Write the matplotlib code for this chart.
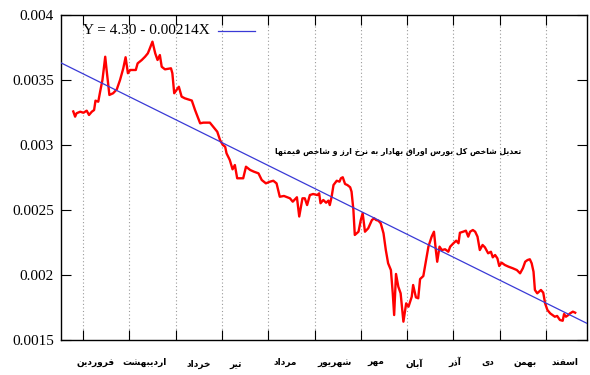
import matplotlib
matplotlib.use("Agg")
import matplotlib.pyplot as plt
import numpy as np

# ---------------- data ----------------
# x: position in months (0 = first month gridline), y: adjusted index value
x_month = [-0.21, -0.17, -0.14, -0.06, 0.01, 0.08, 0.13, 0.19, 0.24, 0.27,
           0.33, 0.37, 0.42, 0.48, 0.51, 0.57, 0.65, 0.73, 0.80, 0.87,
           0.92, 0.97, 1.02, 1.14, 1.18, 1.27, 1.34, 1.40, 1.43, 1.50,
           1.56, 1.61, 1.66, 1.70, 1.77, 1.90, 1.93, 1.97, 2.02, 2.07,
           2.13, 2.20, 2.35, 2.42, 2.53, 2.60, 2.74, 2.81, 2.90, 2.96,
           3.02, 3.07, 3.10, 3.17, 3.23, 3.28, 3.33, 3.46, 3.52, 3.61,
           3.69, 3.79, 3.86, 3.95, 4.04, 4.11, 4.18, 4.25, 4.34, 4.41,
           4.47, 4.53, 4.62, 4.67, 4.74, 4.79, 4.84, 4.90, 4.97, 5.06,
           5.10, 5.13, 5.19, 5.25, 5.30, 5.33, 5.37, 5.41, 5.48, 5.54,
           5.57, 5.61, 5.66, 5.71, 5.77, 5.80, 5.84, 5.87, 5.95, 6.00,
           6.04, 6.09, 6.16, 6.24, 6.29, 6.33, 6.38, 6.43, 6.49, 6.54,
           6.59, 6.65, 6.69, 6.72, 6.76, 6.81, 6.86, 6.92, 6.98, 7.03,
           7.10, 7.13, 7.19, 7.24, 7.28, 7.35, 7.41, 7.46, 7.53, 7.58,
           7.62, 7.65, 7.70, 7.75, 7.82, 7.89, 7.93, 8.00, 8.06, 8.11,
           8.14, 8.21, 8.27, 8.32, 8.36, 8.42, 8.47, 8.52, 8.57, 8.63,
           8.68, 8.75, 8.81, 8.85, 8.90, 8.95, 8.99, 9.04, 9.11, 9.19,
           9.28, 9.37, 9.44, 9.50, 9.55, 9.60, 9.65, 9.69, 9.73, 9.76,
           9.81, 9.89, 9.94, 9.98, 10.03, 10.09, 10.14, 10.19, 10.24, 10.30,
           10.36, 10.39, 10.43, 10.48, 10.52, 10.58, 10.63]

index_ratio = [0.003258, 0.003218, 0.003244, 0.003256, 0.003248, 0.003264, 0.003231, 0.003256, 0.003269, 0.003341,
               0.003333, 0.003410, 0.003500, 0.003679, 0.003577, 0.003385, 0.003398, 0.003428, 0.003500, 0.003590,
               0.003675, 0.003552, 0.003577, 0.003577, 0.003628, 0.003654, 0.003679, 0.003705, 0.003731, 0.003795,
               0.003705, 0.003654, 0.003692, 0.003602, 0.003582, 0.003590, 0.003552, 0.003398, 0.003423, 0.003448,
               0.003372, 0.003359, 0.003342, 0.003269, 0.003167, 0.003172, 0.003172, 0.003141, 0.003102, 0.003038,
               0.003000, 0.002987, 0.002936, 0.002885, 0.002813, 0.002846, 0.002744, 0.002744, 0.002833, 0.002808,
               0.002795, 0.002782, 0.002731, 0.002705, 0.002718, 0.002725, 0.002705, 0.002602, 0.002608, 0.002598,
               0.002590, 0.002564, 0.002598, 0.002450, 0.002590, 0.002590, 0.002538, 0.002615, 0.002623, 0.002615,
               0.002628, 0.002552, 0.002577, 0.002556, 0.002572, 0.002538, 0.002602, 0.002692, 0.002725, 0.002718,
               0.002744, 0.002752, 0.002700, 0.002692, 0.002675, 0.002641, 0.002500, 0.002308, 0.002333, 0.002423,
               0.002475, 0.002333, 0.002359, 0.002423, 0.002436, 0.002423, 0.002418, 0.002398, 0.002321, 0.002192,
               0.002090, 0.002038, 0.001859, 0.001692, 0.002008, 0.001910, 0.001859, 0.001641, 0.001782, 0.001756,
               0.001833, 0.001923, 0.001828, 0.001821, 0.001969, 0.001992, 0.002115, 0.002218, 0.002295, 0.002333,
               0.002192, 0.002102, 0.002218, 0.002192, 0.002198, 0.002179, 0.002218, 0.002244, 0.002264, 0.002244,
               0.002325, 0.002333, 0.002341, 0.002295, 0.002333, 0.002346, 0.002333, 0.002295, 0.002192, 0.002231,
               0.002213, 0.002167, 0.002179, 0.002136, 0.002154, 0.002128, 0.002069, 0.002095, 0.002077, 0.002064,
               0.002052, 0.002038, 0.002013, 0.002052, 0.002102, 0.002115, 0.002121, 0.002090, 0.002025, 0.001885,
               0.001859, 0.001885, 0.001864, 0.001782, 0.001731, 0.001705, 0.001692, 0.001679, 0.001685, 0.001654,
               0.001648, 0.001700, 0.001679, 0.001692, 0.001705, 0.001718, 0.001710]

# fitted trend line (value at month 0 and change per month)
trend_intercept = 0.003548
trend_slope = -0.0001764
trend_label = "Y = 4.30 - 0.00214X"

months = ["فروردین", "اردیبهشت", "خرداد", "تیر", "مرداد", "شهریور",
          "مهر", "آبان", "آذر", "دی", "بهمن", "اسفند"]
month_label_x = [0.28, 1.32, 2.51, 3.30, 4.36, 5.44, 6.33, 7.15, 8.03, 8.75, 9.55, 10.41]

title_text = "تعدیل شاخص کل بورس اوراق بهادار به نرخ ارز و شاخص قیمتها"

y_ticks = [0.0015, 0.002, 0.0025, 0.003, 0.0035, 0.004]
y_tick_labels = ["0.0015", "0.002", "0.0025", "0.003", "0.0035", "0.004"]

# ---------------- simple Arabic/Persian shaping ----------------
FORMS = {  # isolated, final, initial, medial
    'ا': (0xFE8D, 0xFE8E, None, None), 'آ': (0xFE81, 0xFE82, None, None),
    'ب': (0xFE8F, 0xFE90, 0xFE91, 0xFE92), 'پ': (0xFB56, 0xFB57, 0xFB58, 0xFB59),
    'ت': (0xFE95, 0xFE96, 0xFE97, 0xFE98), 'ث': (0xFE99, 0xFE9A, 0xFE9B, 0xFE9C),
    'ج': (0xFE9D, 0xFE9E, 0xFE9F, 0xFEA0), 'چ': (0xFB7A, 0xFB7B, 0xFB7C, 0xFB7D),
    'ح': (0xFEA1, 0xFEA2, 0xFEA3, 0xFEA4), 'خ': (0xFEA5, 0xFEA6, 0xFEA7, 0xFEA8),
    'د': (0xFEA9, 0xFEAA, None, None), 'ذ': (0xFEAB, 0xFEAC, None, None),
    'ر': (0xFEAD, 0xFEAE, None, None), 'ز': (0xFEAF, 0xFEB0, None, None),
    'ژ': (0xFB8A, 0xFB8B, None, None),
    'س': (0xFEB1, 0xFEB2, 0xFEB3, 0xFEB4), 'ش': (0xFEB5, 0xFEB6, 0xFEB7, 0xFEB8),
    'ص': (0xFEB9, 0xFEBA, 0xFEBB, 0xFEBC), 'ض': (0xFEBD, 0xFEBE, 0xFEBF, 0xFEC0),
    'ط': (0xFEC1, 0xFEC2, 0xFEC3, 0xFEC4), 'ظ': (0xFEC5, 0xFEC6, 0xFEC7, 0xFEC8),
    'ع': (0xFEC9, 0xFECA, 0xFECB, 0xFECC), 'غ': (0xFECD, 0xFECE, 0xFECF, 0xFED0),
    'ف': (0xFED1, 0xFED2, 0xFED3, 0xFED4), 'ق': (0xFED5, 0xFED6, 0xFED7, 0xFED8),
    'ک': (0xFB8E, 0xFB8F, 0xFB90, 0xFB91), 'گ': (0xFB92, 0xFB93, 0xFB94, 0xFB95),
    'ل': (0xFEDD, 0xFEDE, 0xFEDF, 0xFEE0), 'م': (0xFEE1, 0xFEE2, 0xFEE3, 0xFEE4),
    'ن': (0xFEE5, 0xFEE6, 0xFEE7, 0xFEE8), 'و': (0xFEED, 0xFEEE, None, None),
    'ه': (0xFEE9, 0xFEEA, 0xFEEB, 0xFEEC), 'ی': (0xFBFC, 0xFBFD, 0xFBFE, 0xFBFF),
}


def dual(c):
    return c in FORMS and FORMS[c][2] is not None


def joins(c):
    return c in FORMS


def shape(s):
    out = []
    for i, c in enumerate(s):
        if c not in FORMS:
            out.append(c)
            continue
        prev = s[i - 1] if i > 0 else ''
        nxt = s[i + 1] if i + 1 < len(s) else ''
        cp = dual(prev)
        cn = dual(c) and joins(nxt)
        f = FORMS[c]
        if cp and cn:
            code = f[3]
        elif cp:
            code = f[1]
        elif cn:
            code = f[2]
        else:
            code = f[0]
        out.append(chr(code))
    return ''.join(reversed(out))


# ---------------- figure ----------------
W, H = 590, 375
fig = plt.figure(figsize=(W / 100, H / 100), dpi=100)
L, R, T, B = 61, 587, 15, 340
ax = fig.add_axes([L / W, 1 - B / H, (R - L) / W, (B - T) / H])

ax.set_xlim(-0.475, 10.885)
ax.set_ylim(0.0015, 0.004)

for k in range(11):
    ax.axvline(k, color='#9a9a9a', lw=0.8, linestyle=(0, (1, 2.2)), zorder=1)

ax.plot(x_month, index_ratio, color='#ff0000', lw=1.7, zorder=3,
        solid_joinstyle='round')

xl = np.array(ax.get_xlim())
ax.plot(xl, trend_intercept + trend_slope * xl, color='#3a3ad6', lw=0.9, zorder=4)

# legend (gnuplot style: text then sample)
ax.text((210 - L) / (R - L), (B - 31) / (B - T), trend_label, transform=ax.transAxes,
        ha='right', va='center', family='Liberation Serif', fontsize=11)
ax.plot([(218 - L) / (R - L), (255 - L) / (R - L)], [(B - 31) / (B - T)] * 2,
        transform=ax.transAxes, color='#3a3ad6', lw=0.9)

ax.text((521 - L) / (R - L), (B - 152) / (B - T), shape(title_text), transform=ax.transAxes,
        ha='right', va='center', family='DejaVu Sans', fontweight='bold', fontsize=5.6)

ax.set_yticks(y_ticks)
ax.set_yticklabels(y_tick_labels, family='Liberation Serif', fontsize=11)
ax.set_xticks(range(11))
ax.set_xticklabels([])
ax.tick_params(direction='in', length=7, width=0.8, top=True, right=True, pad=5)

lower = {"خرداد", "تیر", "آبان"}
for name, xm in zip(months, month_label_x):
    yy = -0.074 if name in lower else -0.068
    ax.text(xm, yy, shape(name), transform=ax.get_xaxis_transform(),
            ha='center', va='center', family='DejaVu Sans', fontweight='bold', fontsize=6.5)

for s in ax.spines.values():
    s.set_linewidth(1.0)

fig.savefig("out.png", dpi=100)
